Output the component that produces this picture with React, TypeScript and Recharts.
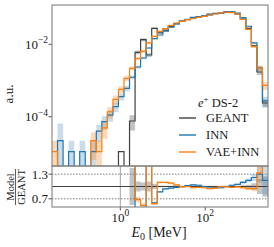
import React from 'react';
import { ComposedChart, Line, Area, XAxis, YAxis, ReferenceLine } from 'recharts';

// ---------- data ----------
const E_MIN = 0.02455; // MeV, first bin edge
const E_MAX = 3020; // MeV, last bin edge
const N_BINS = 39;

const Y_MIN = 4.345e-6;
const Y_MAX = 0.1219;

const geant = [
  0, 0, 0, 0, 0, 0, 0, 0, 0, 0, 0, 0, 1.09e-5, 0, 7.6e-5,
  6.0e-3, 1.34e-2, 5.06e-3, 2.77e-2, 0.0208, 0.0245, 0.031, 0.0373, 0.0436, 0.0478,
  0.0532, 0.0568, 0.0604, 0.0679, 0.0717, 0.0733, 0.0788, 0.077, 0.0695, 0.0499,
  0.0274, 0.00904, 0.00172, 2.39e-4,
];
const inn = [
  0, 2.17e-5, 0, 1.09e-5, 0, 1.09e-5, 0, 1.09e-5, 4.0e-5, 7.3e-5, 1.11e-4, 1.89e-4,
  3.57e-4, 6.1e-4, 1.23e-3, 2.36e-3, 4.18e-3, 7.9e-3, 0.0143, 0.0181, 0.023, 0.0298,
  0.0366, 0.0436, 0.0488, 0.0553, 0.0585, 0.0604, 0.0652, 0.0703, 0.0711, 0.0788,
  0.0793, 0.073, 0.0549, 0.0315, 0.011, 0.00224, 2.75e-4,
];
const vae = [
  1.09e-5, 0, 0, 0, 0, 0, 0, 2.17e-5, 1.09e-5, 4.9e-5, 1.37e-4, 3.03e-4, 5.7e-4,
  1.15e-3, 2.17e-3, 4.05e-3, 6.4e-3, 0.0109, 0.0166, 0.0229, 0.027, 0.0335, 0.0388,
  0.0432, 0.0478, 0.0516, 0.0557, 0.0586, 0.0645, 0.0688, 0.0733, 0.078, 0.0755,
  0.0688, 0.0484, 0.026, 0.00859, 0.00221, 7.3e-4,
];

// relative uncertainties
const geantErr = [
  0, 0, 0, 0, 0, 0, 0, 0, 0, 0, 0, 0, 0, 0, 0.45, 0.12, 0.1, 0.12, 0.06,
  0.02, 0.02, 0.02, 0.02, 0.02, 0.02, 0.02, 0.02, 0.02, 0.02, 0.02, 0.02, 0.02, 0.02, 0.02,
  0.03, 0.04, 0.08, 0.18, 0.25,
];
const innErr = [
  0, 2.0, 0, 1.0, 0, 1.0, 0, 1.0, 0.5, 0.4, 0.35, 0.3, 0.22, 0.18, 0.12, 0.1, 0.08, 0.06, 0.05,
  0.02, 0.02, 0.02, 0.02, 0.02, 0.02, 0.02, 0.02, 0.02, 0.02, 0.02, 0.02, 0.02, 0.02, 0.02,
  0.03, 0.04, 0.07, 0.15, 0.3,
];
const vaeErr = [
  1.0, 0, 0, 0, 0, 0, 0, 0.7, 1.0, 0.5, 0.35, 0.28, 0.22, 0.17, 0.12, 0.1, 0.08, 0.06, 0.05,
  0.02, 0.02, 0.02, 0.02, 0.02, 0.02, 0.02, 0.02, 0.02, 0.02, 0.02, 0.02, 0.02, 0.02, 0.02,
  0.03, 0.04, 0.07, 0.15, 0.25,
];

// ratio panel (Model / GEANT)
const N = null;
const ratioInn = [
  N, N, N, N, N, N, N, N, N, N, N, N, N, N,
  3, 0.3, 0.3, 1.8, 0.6, 0.87, 0.94, 0.96, 0.98, 1.0, 1.02, 1.04, 1.03, 1.0, 0.96, 0.98,
  0.97, 1.0, 1.03, 1.05, 1.1, 1.15, 1.22, 1.3, 1.15,
];
const ratioVae = [
  N, N, N, N, N, N, N, N, N, N, N, N, N, N,
  3, 0.68, 0.54, 2.0, 0.58, 1.1, 1.1, 1.08, 1.04, 0.99, 1.0, 0.97, 0.98, 0.97, 0.95, 0.96,
  1.0, 0.99, 0.98, 0.99, 0.97, 0.95, 0.95, 1.33, 2.0,
];
const ratioGeantErr = [
  N, N, N, N, N, N, N, N, N, N, N, N, N, N,
  0.45, 0.12, 0.1, 0.12, 0.06, 0.02, 0.02, 0.02, 0.02, 0.02, 0.02, 0.02, 0.02, 0.02, 0.02, 0.02,
  0.02, 0.02, 0.02, 0.02, 0.03, 0.04, 0.08, 0.18, 0.25,
];

const yTicksMain = [1e-4, 1e-2];
const yTicksRatio = [0.7, 1.0, 1.3];
const xTicks = [1, 100];

// ---------- styling ----------
const FONT = '"Liberation Serif", "DejaVu Serif", serif';
const C_GEANT = '#404040';
const C_INN = '#1f77b4';
const C_VAE = '#ff7f0e';
const FLOOR = 1e-9;

// ---------- build tables ----------
const edges = Array.from({ length: N_BINS + 1 }, (_, i) => E_MIN * Math.pow(E_MAX / E_MIN, i / N_BINS));
const at = (arr: any[], i: number) => arr[Math.min(i, N_BINS - 1)];
const pos = (v: number) => (v > 0 ? v : FLOOR);
const band = (v: number, e: number) => (v > 0 ? [pos(v * (1 - e)), pos(v * (1 + e))] : [FLOOR, FLOOR]);

const mainData = edges.map((x, i) => ({
  x,
  geant: pos(at(geant, i)),
  inn: pos(at(inn, i)),
  vae: pos(at(vae, i)),
  geantBand: band(at(geant, i), at(geantErr, i)),
  innBand: band(at(inn, i), at(innErr, i)),
  vaeBand: band(at(vae, i), at(vaeErr, i)),
}));

const ratioData = edges.map((x, i) => {
  const ri = at(ratioInn, i);
  const rv = at(ratioVae, i);
  const ge = at(ratioGeantErr, i);
  const ie = at(innErr, i);
  const ve = at(vaeErr, i);
  return {
    x,
    rInn: ri,
    rVae: rv,
    rInnBand: ri == null ? null : [ri * (1 - ie), ri * (1 + ie)],
    rVaeBand: rv == null ? null : [rv * (1 - ve), rv * (1 + ve)],
    gBand: ge == null ? null : [1 - ge, 1 + ge],
  };
});

// ---------- ticks ----------
const supText = (e: number) => (e < 0 ? '\u2212' + -e : String(e));

const LogYTick = (props: any) => {
  const { x, y, payload } = props;
  const e = Math.round(Math.log10(payload.value));
  return (
    <text x={x + 1.5} y={y + 4.5} textAnchor="end" fontFamily={FONT} fontSize={13} fill="#1a1a1a">
      10
      <tspan dy={-5.5} fontSize={9.5}>{supText(e)}</tspan>
    </text>
  );
};

const LogXTick = (props: any) => {
  const { x, y, payload } = props;
  const e = Math.round(Math.log10(payload.value));
  return (
    <text x={x} y={y + 9} textAnchor="middle" fontFamily={FONT} fontSize={13} fill="#1a1a1a">
      10
      <tspan dy={-5.5} fontSize={9.5}>{supText(e)}</tspan>
    </text>
  );
};

const RatioTick = (props: any) => {
  const { x, y, payload } = props;
  return (
    <text x={x + 1.5} y={y + 4.5} textAnchor="end" fontFamily={FONT} fontSize={13} fill="#1a1a1a">
      {Number(payload.value).toFixed(1)}
    </text>
  );
};

// ---------- component ----------
export default function App() {
  return (
    <div style={{ position: 'absolute', left: 0, top: 0, width: 274, height: 247, background: '#fff' }}>
      <div style={{ position: 'absolute', left: 0, top: 0 }}>
        <ComposedChart width={274} height={170} data={mainData} margin={{ top: 5, right: 6, bottom: 4, left: 0 }}>
          <XAxis type="number" dataKey="x" scale="log" domain={[E_MIN, E_MAX]} allowDataOverflow hide />
          <YAxis
            type="number"
            scale="log"
            domain={[Y_MIN, Y_MAX]}
            allowDataOverflow
            ticks={yTicksMain}
            width={52}
            tick={<LogYTick />}
            tickSize={3.5}
            tickLine={{ stroke: '#555' }}
            axisLine={false}
          />
          <Area type="stepAfter" dataKey="geantBand" stroke="none" fill="#7a7a7a" fillOpacity={0.45} isAnimationActive={false} />
          <Area type="stepAfter" dataKey="innBand" stroke="none" fill={C_INN} fillOpacity={0.25} isAnimationActive={false} />
          <Area type="stepAfter" dataKey="vaeBand" stroke="none" fill={C_VAE} fillOpacity={0.3} isAnimationActive={false} />
          <Line type="stepAfter" dataKey="geant" stroke={C_GEANT} strokeWidth={1.2} dot={false} isAnimationActive={false} />
          <Line type="stepAfter" dataKey="inn" stroke={C_INN} strokeWidth={1.2} dot={false} isAnimationActive={false} />
          <Line type="stepAfter" dataKey="vae" stroke={C_VAE} strokeWidth={1.2} dot={false} isAnimationActive={false} />
        </ComposedChart>
      </div>
      <div style={{ position: 'absolute', left: 0, top: 0 }}>
        <ComposedChart width={274} height={247} data={ratioData} margin={{ top: 166, right: 6, bottom: 0, left: 0 }}>
          <XAxis
            type="number"
            dataKey="x"
            scale="log"
            domain={[E_MIN, E_MAX]}
            allowDataOverflow
            ticks={xTicks}
            height={40}
            tick={<LogXTick />}
            tickSize={3.5}
            tickLine={{ stroke: '#555' }}
            axisLine={false}
          />
          <YAxis
            type="number"
            domain={[0.5, 1.5]}
            allowDataOverflow
            ticks={yTicksRatio}
            width={52}
            tick={<RatioTick />}
            tickSize={3.5}
            tickLine={{ stroke: '#555' }}
            axisLine={false}
          />
          <ReferenceLine x={1} stroke="#8a8a8a" strokeWidth={0.8} />
          <ReferenceLine y={1.3} stroke="#7a7a7a" strokeDasharray="1.5 1.5" strokeWidth={1} />
          <ReferenceLine y={0.7} stroke="#7a7a7a" strokeDasharray="1.5 1.5" strokeWidth={1} />
          <Area type="stepAfter" dataKey="gBand" stroke="none" fill="#7a7a7a" fillOpacity={0.45} isAnimationActive={false} />
          <Area type="stepAfter" dataKey="rInnBand" stroke="none" fill={C_INN} fillOpacity={0.25} isAnimationActive={false} />
          <Area type="stepAfter" dataKey="rVaeBand" stroke="none" fill={C_VAE} fillOpacity={0.3} isAnimationActive={false} />
          <ReferenceLine y={1} stroke={C_GEANT} strokeWidth={1.2} />
          <Line type="stepAfter" dataKey="rInn" stroke={C_INN} strokeWidth={1.2} dot={false} isAnimationActive={false} />
          <Line type="stepAfter" dataKey="rVae" stroke={C_VAE} strokeWidth={1.2} dot={false} isAnimationActive={false} />
        </ComposedChart>
      </div>
      <svg
        width={274}
        height={247}
        style={{ position: 'absolute', left: 0, top: 0, pointerEvents: 'none' }}
        fontFamily={FONT}
      >
        <rect x={52} y={5} width={216} height={161} fill="none" stroke="#808080" strokeWidth={1.1} />
        <rect x={52} y={166} width={216} height={41} fill="none" stroke="#808080" strokeWidth={1.1} />
        {/* y label */}
        <text transform="translate(13,94) rotate(-90)" textAnchor="middle" fontSize={13} fill="#1a1a1a">
          a.u.
        </text>
        {/* ratio label */}
        <g transform="translate(15.5,187) rotate(-90)">
          <text x={0} y={-2} textAnchor="middle" fontSize={10.5} fill="#1a1a1a">Model</text>
          <line x1={-18} x2={18} y1={0} y2={0} stroke="#1a1a1a" strokeWidth={0.7} />
          <text x={0} y={9} textAnchor="middle" fontSize={10.5} fill="#1a1a1a">GEANT</text>
        </g>
        {/* x label */}
        <text x={159} y={237} textAnchor="middle" fontSize={14} fill="#1a1a1a">
          <tspan fontStyle="italic">E</tspan>
          <tspan dy={3} fontSize={10}>0</tspan>
          <tspan dy={-3}> [MeV]</tspan>
        </text>
        {/* legend */}
        <text x={198} y={107} fontSize={12.5} fill="#1a1a1a">
          <tspan fontStyle="italic">e</tspan>
          <tspan dy={-5} fontSize={9}>+</tspan>
          <tspan dy={5}> DS-2</tspan>
        </text>
        <line x1={179} x2={196} y1={118} y2={118} stroke={C_GEANT} strokeWidth={1.4} />
        <text x={206} y={122} fontSize={12.5} fill="#1a1a1a">GEANT</text>
        <line x1={179} x2={196} y1={135} y2={135} stroke={C_INN} strokeWidth={1.4} />
        <text x={206} y={139} fontSize={12.5} fill="#1a1a1a">INN</text>
        <line x1={179} x2={196} y1={152} y2={152} stroke={C_VAE} strokeWidth={1.4} />
        <text x={206} y={156} fontSize={12.5} fill="#1a1a1a">VAE+INN</text>
      </svg>
    </div>
  );
}
